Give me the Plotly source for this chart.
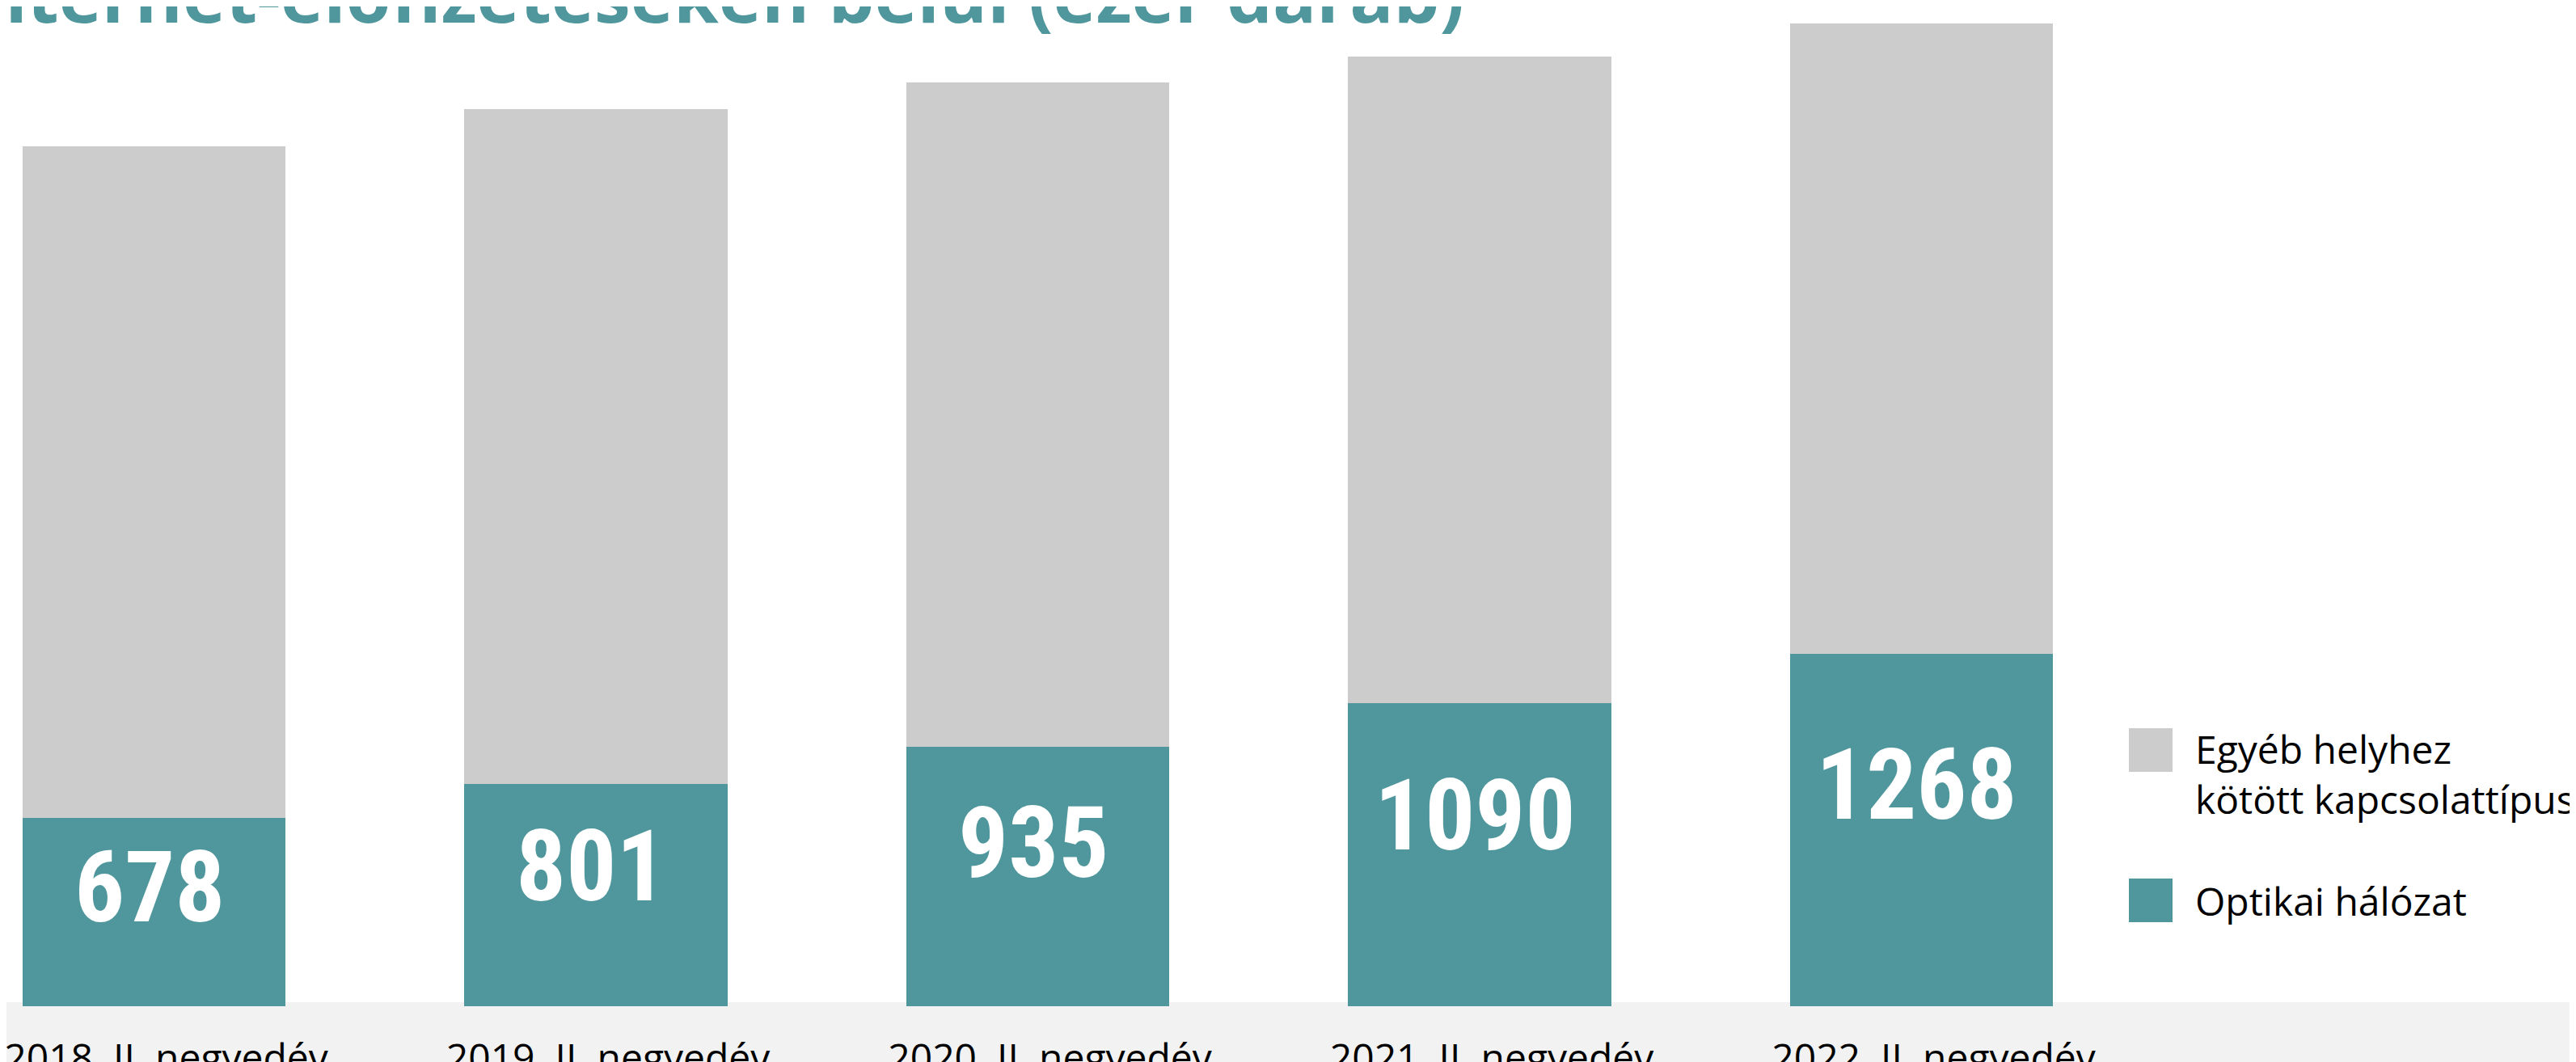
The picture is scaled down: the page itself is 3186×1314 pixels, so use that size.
import plotly.graph_objects as go

# ---- data (ezer darab) ----
categories = ["2018. II. negyedév", "2019. II. negyedév", "2020. II. negyedév",
              "2021. II. negyedév", "2022. II. negyedév"]
optikai = [678, 801, 935, 1090, 1268]
egyeb = [2418, 2429, 2391, 2329, 2270]
series_names = ["Optikai hálózat", "Egyéb helyhez<br>kötött kapcsolattípus"]
title_text = "internet-előfizetéseken belül (ezer darab)"

# ---- layout constants ----
PAGE_W, PAGE_H = 3186, 1314
OFF = 8                      # default body margin of the html page
W, H = PAGE_W - OFF, PAGE_H - OFF
MT, MB = 0, 69
PH = H - MT - MB

TEAL = "#4f979c"
GRAY = "#cccccc"
BAND = "#f2f2f2"
TEXT_FONT = "Open Sans, Noto Sans, sans-serif"
NUM_FONT = "Roboto Condensed, Liberation Sans Narrow, Roboto, sans-serif"


def px(x):
    """page x pixel -> paper x"""
    return (x - OFF) / W


def py(y):
    """page y pixel -> paper y"""
    return 1 - (y - OFF - MT) / PH


fig = go.Figure()
fig.add_bar(x=categories, y=optikai, name=series_names[0],
            marker=dict(color=TEAL, line=dict(width=0)))
fig.add_bar(x=categories, y=egyeb, name=series_names[1],
            marker=dict(color=GRAY, line=dict(width=0)))

annotations = []
# value labels inside the teal segments
for c, v in zip(categories, optikai):
    annotations.append(dict(
        x=c, y=v * 0.63, xref="x", yref="y", text=str(v), showarrow=False,
        xanchor="center", yanchor="middle", xshift=-6,
        font=dict(family=NUM_FONT, size=123, color="white", weight=700)))

# title (cropped at the top/left edge like the reference)
annotations.append(dict(
    x=px(-55), y=py(56), xref="paper", yref="paper", text=title_text,
    showarrow=False, xanchor="left", yanchor="bottom",
    font=dict(family=TEXT_FONT, size=90, color=TEAL, weight=700)))

# legend texts
annotations.append(dict(
    x=px(2713), y=py(957), xref="paper", yref="paper", text=series_names[1],
    showarrow=False, xanchor="left", yanchor="middle", align="left",
    font=dict(family=TEXT_FONT, size=48, color="black")))
annotations.append(dict(
    x=px(2713), y=py(1114.5), xref="paper", yref="paper", text=series_names[0],
    showarrow=False, xanchor="left", yanchor="middle", align="left",
    font=dict(family=TEXT_FONT, size=48, color="black")))

shapes = [
    # light grey band under the axis
    dict(type="rect", xref="paper", yref="paper", x0=px(0), x1=px(PAGE_W + 20),
         y0=py(PAGE_H + 20), y1=py(1240), fillcolor=BAND, line=dict(width=0),
         layer="below"),
    # legend swatches
    dict(type="rect", xref="paper", yref="paper", x0=px(2633), x1=px(2687),
         y0=py(955), y1=py(901), fillcolor=GRAY, line=dict(width=0)),
    dict(type="rect", xref="paper", yref="paper", x0=px(2633), x1=px(2687),
         y0=py(1141), y1=py(1087), fillcolor=TEAL, line=dict(width=0)),
]

CAT_STEP = 546.5
CAT0 = 190.5
fig.update_layout(
    template="none",
    width=W, height=H,
    margin=dict(l=0, r=0, t=MT, b=MB, pad=0),
    paper_bgcolor="white", plot_bgcolor="rgba(0,0,0,0)",
    barmode="stack", bargap=0.405,
    showlegend=False,
    annotations=annotations,
    shapes=shapes,
    xaxis=dict(type="category",
               range=[(OFF - CAT0) / CAT_STEP, (PAGE_W - CAT0) / CAT_STEP],
               showgrid=False, zeroline=False, showline=False, ticks="",
               tickfont=dict(family=TEXT_FONT, size=48, color="black"),
               ticklabelstandoff=32, ticklabelshift=15),
    yaxis=dict(range=[0, PH / 0.3436], visible=False, showgrid=False,
               zeroline=False),
)

fig.write_html("out.html")
